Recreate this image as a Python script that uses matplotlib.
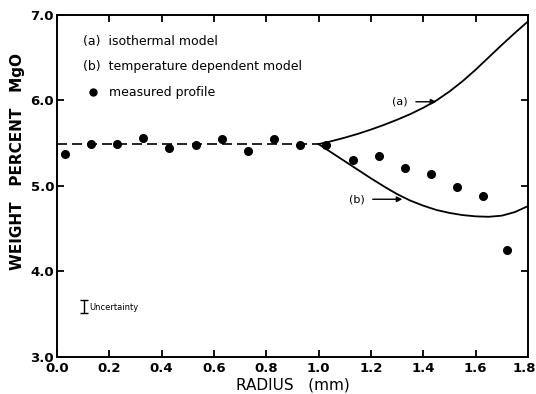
import matplotlib
matplotlib.use("Agg")
import matplotlib.pyplot as plt
import matplotlib.transforms as mtransforms

plt.rcParams['font.family'] = ['DejaVu Sans']

# measured profile
radius = [0.03, 0.13, 0.23, 0.33, 0.43, 0.53, 0.63, 0.73, 0.83, 0.93, 1.03,
          1.13, 1.23, 1.33, 1.43, 1.53, 1.63, 1.72]
mgo = [5.37, 5.49, 5.49, 5.56, 5.44, 5.47, 5.55, 5.41, 5.54, 5.48, 5.48,
       5.30, 5.345, 5.21, 5.14, 4.98, 4.88, 4.25]

# initial flat profile (dashed)
flat_x = [0.0, 1.0]
flat_y = [5.485, 5.485]

# (a) isothermal model
a_x = [1.0, 1.05, 1.1, 1.15, 1.2, 1.25, 1.3, 1.35, 1.4, 1.45, 1.5, 1.55,
       1.6, 1.65, 1.7, 1.75, 1.8]
a_y = [5.485, 5.52, 5.56, 5.605, 5.655, 5.71, 5.77, 5.835, 5.91, 5.995, 6.10,
       6.22, 6.355, 6.50, 6.645, 6.785, 6.92]

# (b) temperature dependent model
b_x = [1.0, 1.05, 1.1, 1.15, 1.2, 1.25, 1.3, 1.35, 1.4, 1.45, 1.5, 1.55,
       1.6, 1.65, 1.7, 1.75, 1.8]
b_y = [5.485, 5.385, 5.285, 5.185, 5.085, 4.99, 4.90, 4.825, 4.765, 4.715,
       4.68, 4.655, 4.64, 4.635, 4.648, 4.69, 4.76]

xticks = [0.0, 0.2, 0.4, 0.6, 0.8, 1.0, 1.2, 1.4, 1.6, 1.8]
xticklabels = ["0.0", "0.2", "0.4", "0.6", "0.8", "1.0", "1.2", "1.4", "1.6", "1.8"]
yticks = [3.0, 4.0, 5.0, 6.0, 7.0]
yticklabels = ["3.0", "4.0", "5.0", "6.0", "7.0"]

fig = plt.figure(figsize=(5.36, 3.94), dpi=100)
ax = fig.add_axes([0.106, 0.095, 0.879, 0.868])

ax.plot(flat_x, flat_y, color='black', lw=1.2, dashes=(6, 3))
ax.plot(a_x, a_y, color='black', lw=1.3)
ax.plot(b_x, b_y, color='black', lw=1.3)
ax.plot(radius, mgo, 'o', color='black', ms=5.5)

ax.set_xlim(0, 1.8)
ax.set_ylim(3.0, 7.0)
ax.set_xticks(xticks)
ax.set_xticklabels(xticklabels)
ax.set_yticks(yticks)
ax.set_yticklabels(yticklabels)
ax.tick_params(direction='in', length=5, width=1.3, top=True, right=True,
               labelsize=9.5)
ax.tick_params(axis='x', pad=4)
ax.tick_params(axis='y', pad=2)
for lab in ax.get_xticklabels() + ax.get_yticklabels():
    lab.set_fontweight('bold')
last = ax.get_xticklabels()[-1]
last.set_transform(last.get_transform() +
                   mtransforms.ScaledTranslation(-4 / 100, 0, fig.dpi_scale_trans))
for sp in ax.spines.values():
    sp.set_linewidth(1.4)

ax.set_xlabel("RADIUS   (mm)", fontsize=11, labelpad=2)
ax.set_ylabel("WEIGHT   PERCENT   MgO", fontsize=11, fontweight='bold')
ax.yaxis.set_label_coords(-0.068, 0.57)

# legend text
ax.text(0.10, 6.68, "(a)  isothermal model", fontsize=9, va='center')
ax.text(0.10, 6.39, "(b)  temperature dependent model", fontsize=9, va='center')
ax.plot([0.14], [6.09], 'o', color='black', ms=5)
ax.text(0.20, 6.09, "measured profile", fontsize=9, va='center')

# arrows
ax.annotate("(a)", xy=(1.45, 5.98), xytext=(1.31, 5.98), fontsize=8,
            ha='center', va='center',
            arrowprops=dict(arrowstyle='-|>', color='black', lw=1.0,
                            shrinkA=4, shrinkB=0, mutation_scale=8))
ax.annotate("(b)", xy=(1.32, 4.84), xytext=(1.145, 4.84), fontsize=8,
            ha='center', va='center',
            arrowprops=dict(arrowstyle='-|>', color='black', lw=1.0,
                            shrinkA=4, shrinkB=0, mutation_scale=8))

# uncertainty bar
ax.errorbar([0.103], [3.585], yerr=[0.08], color='black', lw=1.0, capsize=3,
            capthick=1.0)
ax.text(0.125, 3.57, "Uncertainty", fontsize=6, va='center')

fig.savefig("out.png", dpi=100)
